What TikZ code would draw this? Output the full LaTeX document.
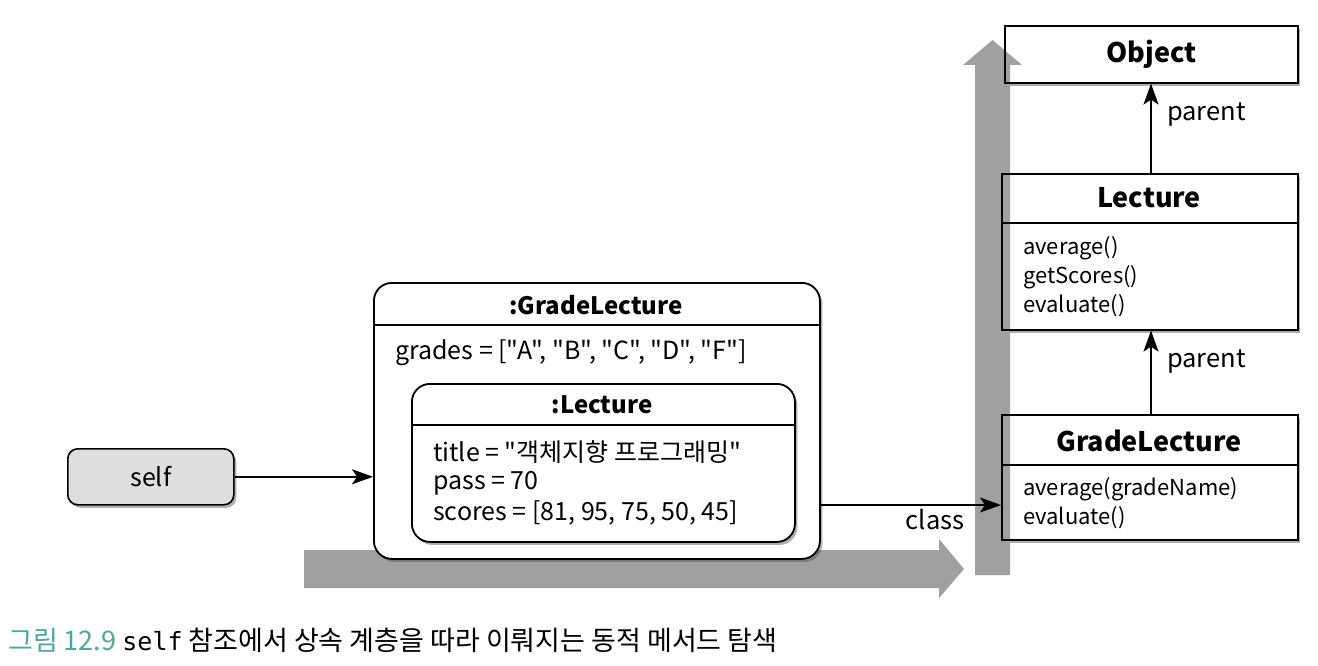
\documentclass[tikz,border=0pt]{standalone}
\usepackage{fontspec}
\setmainfont{Noto Sans CJK KR}[Ligatures=TeXOff]
\setmonofont{DejaVu Sans Mono}
\usetikzlibrary{shadows,arrows.meta,calc}
\definecolor{bararrow}{RGB}{160,160,160}
\definecolor{selffill}{RGB}{222,222,222}
\definecolor{capteal}{RGB}{80,166,160}
\tikzset{
  boxshadow/.style={drop shadow={shadow xshift=2.5pt,shadow yshift=-3pt,opacity=0.45,fill=black!70}},
  objbox/.style={draw,line width=1.8pt,fill=white,rounded corners=18pt,boxshadow,inner sep=0pt,anchor=north west},
  clsbox/.style={draw,line width=1.6pt,fill=white,boxshadow,inner sep=0pt,anchor=north west},
  clsborder/.style={draw,line width=1.6pt,inner sep=0pt,anchor=north west},
  sepline/.style={line width=1.6pt},
  conn/.style={line width=1.6pt,-{Stealth[length=21pt,width=15pt,inset=5pt]}},
  bigtitle/.style={font=\fontsize{24}{29}\selectfont\bfseries,inner sep=0pt},
  clstitle/.style={font=\fontsize{27}{32}\selectfont\bfseries,inner sep=0pt},
  attr/.style={font=\fontsize{25}{30}\selectfont,inner sep=0pt,anchor=west},
  meth/.style={font=\fontsize{22}{26}\selectfont,inner sep=0pt,anchor=west},
  lbl/.style={font=\fontsize{25.5}{30}\selectfont,inner sep=0pt},
  graybar/.style={fill=bararrow,draw=none}
}
\begin{document}
\begin{tikzpicture}[x=1pt,y=-1pt]
\useasboundingbox[fill=white] (0,0) rectangle (1318,666);
% horizontal gray arrow (behind the object boxes)
\fill[graybar] (304,550) -- (939,550) -- (939,539) -- (964,569) -- (939,598) -- (939,588) -- (304,588) -- cycle;
% self
\node[draw,line width=1.6pt,fill=selffill,rounded corners=10pt,boxshadow,minimum width=166pt,minimum height=56pt,anchor=north west,inner sep=0pt] (self) at (67,448) {};
\node[lbl,font=\fontsize{25}{30}\selectfont] (selft) at (self.center) {self};
% outer object :GradeLecture
\node[objbox,minimum width=446pt,minimum height=276pt] (gl) at (373,282) {};
\draw[sepline] ($(gl.north west)+(0,43)$) coordinate (glsl) -- ($(gl.north east)+(0,43)$) coordinate (glsr);
\node[bigtitle] (gltitle) at (596,305) {:GradeLecture};
\node[attr] (grades) at (395,353) {grades = ["A", "B", "C", "D", "F"]};
% inner object :Lecture
\node[objbox,minimum width=383pt,minimum height=158pt] (lec) at (411,383) {};
\draw[sepline] ($(lec.north west)+(0,42)$) coordinate (lecsl) -- ($(lec.north east)+(0,42)$) coordinate (lecsr);
\node[bigtitle] (lectitle) at (602,405) {:Lecture};
\node[attr] (atitle) at (433,452) {title = "객체지향 프로그래밍"};
\node[attr] (apass) at (433,483) {pass = 70};
\node[attr] (ascores) at (433,513) {scores = [81, 95, 75, 50, 45]};
% class boxes (fill + shadow)
\node[clsbox,minimum width=293pt,minimum height=57pt] (obj) at (1004,25) {};
\node[clsbox,minimum width=296pt,minimum height=156pt] (lcls) at (1001,173) {};
\node[clsbox,minimum width=296pt,minimum height=125pt] (gcls) at (1001,414) {};
% vertical gray arrow (over the class boxes)
\fill[graybar] (975,575) -- (975,65) -- (963,65) -- (992.5,40) -- (1022,65) -- (1010,65) -- (1010,575) -- cycle;
% class box borders redrawn
\node[clsborder,minimum width=293pt,minimum height=57pt] (objb) at (1004,25) {};
\node[clsborder,minimum width=296pt,minimum height=156pt] (lclsb) at (1001,173) {};
\node[clsborder,minimum width=296pt,minimum height=125pt] (gclsb) at (1001,414) {};
\draw[sepline] ($(lcls.north west)+(0,50)$) -- ($(lcls.north east)+(0,50)$);
\draw[sepline] ($(gcls.north west)+(0,51)$) -- ($(gcls.north east)+(0,51)$);
\node[clstitle] (objt) at (obj.center) {Object};
\node[clstitle] (lclst) at (1149,198) {Lecture};
\node[clstitle] (gclst) at (1149,441) {GradeLecture};
\node[meth] (m1) at (1023,248) {average()};
\node[meth] (m2) at (1023,277) {getScores()};
\node[meth] (m3) at (1023,306) {evaluate()};
\node[meth] (m4) at (1023,489) {average(gradeName)};
\node[meth] (m5) at (1023,518) {evaluate()};
% connectors
\draw[conn] (self.east) -- (gl.west |- self.east);
\coordinate (cy) at (0,505);
\draw[conn] (gl.east |- cy) -- (gcls.west |- cy);
\node[lbl] (classl) at (935,520) {class};
\draw[conn] (lcls.north -| 1151,0) -- (obj.south -| 1151,0);
\draw[conn] (gcls.north -| 1151,0) -- (lcls.south -| 1151,0);
\node[lbl,anchor=west] (p1) at (1167,115) {parent};
\node[lbl,anchor=west] (p2) at (1167,362) {parent};
% caption
\node[anchor=west,inner sep=0pt,font=\fontsize{27}{32}\selectfont] (cap) at (8,640) {\textcolor{capteal}{그림 12.9} {\ttfamily\fontsize{25}{30}\selectfont self} 참조에서 상속 계층을 따라 이뤄지는 동적 메서드 탐색};
\end{tikzpicture}
\end{document}
